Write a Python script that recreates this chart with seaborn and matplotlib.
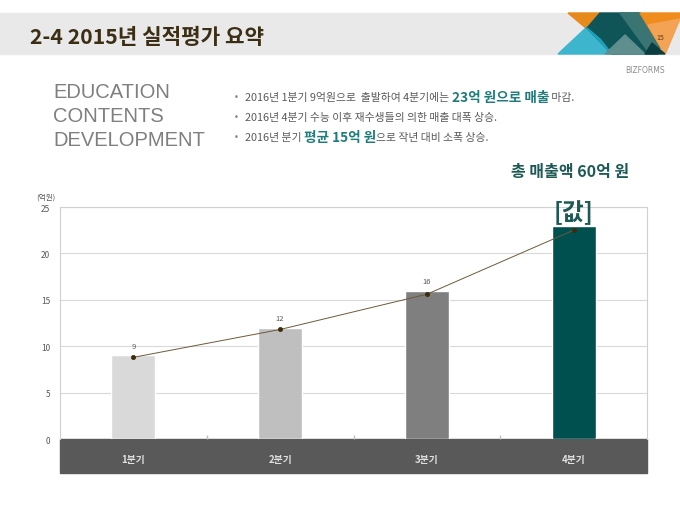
import matplotlib.pyplot as plt
import matplotlib.patches as mpatches
import numpy as np
import pandas as pd
import seaborn as sns

# data
quarters = ['1분기', '2분기', '3분기', '4분기']
sales = [9, 12, 16, 23]            # 억원 (bars)
trend = [8.8, 11.8, 15.6, 22.5]    # line markers
bar_labels = ['9', '12', '16', '[값]']
bar_colors = ['#d9d9d9', '#bfbfbf', '#7f7f7f', '#015050']
y_ticks = [0, 5, 10, 15, 20, 25]

side_words = ['EDUCATION', 'CONTENTS', 'DEVELOPMENT']
# each bullet: list of (text, highlighted?)
bullets = [
    [('2016년 1분기 9억원으로  출발하여 4분기에는 ', False), ('23억 원으로 매출', True), (' 마감.', False)],
    [('2016년 4분기 수능 이후 재수생들의 의한 매출 대폭 상승.', False)],
    [('2016년 분기 ', False), ('평균 15억 원', True), ('으로 작년 대비 소폭 상승.', False)],
]

sns.set_theme(style='white')
plt.rcParams['font.family'] = ['Noto Sans CJK KR', 'DejaVu Sans']

W, H = 680, 510
fig = plt.figure(figsize=(6.8, 5.1), dpi=100)

def fx(px):
    return px / W

def fy(py):
    return 1 - py / H

# header band
fig.patches.append(mpatches.Rectangle((0, fy(55)), 1, 41 / H, transform=fig.transFigure,
                                      color='#e9e9e9', zorder=0))
fig.text(fx(30), fy(37), '2-4 2015년 실적평가 요약', fontsize=15.3, fontweight='bold',
         color='#3b2e14', va='center')

# decorative triangles top right
tris = [
    ([(568, 14), (600, 14), (587, 30)], '#e8891c'),
    ([(558, 55), (587, 28), (618, 55)], '#3db5cc'),
    ([(587, 29), (600, 14), (640, 14), (658, 55), (612, 55)], '#0f5557'),
    ([(612, 55), (587, 29), (600, 40), (612, 55)], '#1aa3bb'),
    ([(620, 14), (640, 14), (662, 48), (650, 55)], '#3a7574'),
    ([(605, 55), (625, 36), (645, 55)], '#5e8f8e'),
    ([(640, 14), (680, 14), (680, 18), (665, 55)], '#ef8c1e'),
    ([(648, 26), (680, 20), (665, 55)], '#f4a354'),
    ([(645, 55), (652, 44), (665, 55)], '#0c3e40'),
]
for pts, col in tris:
    fig.patches.append(mpatches.Polygon([(fx(x), fy(y)) for x, y in pts], closed=True,
                                        transform=fig.transFigure, color=col, zorder=1))
fig.text(fx(660), fy(38), '15', fontsize=5, color='#5a3a10', ha='center', va='center')
fig.text(fx(665), fy(71), 'BIZFORMS', fontsize=5.5, color='#8c8c8c', ha='right', va='center',
         family='DejaVu Sans')

# left side words
for i, w in enumerate(side_words):
    fig.text(fx(53), fy(93 + 24 * i), w, fontsize=14.5, color='#7f7f7f', va='center',
             family='Liberation Sans')

# bullet lines with highlighted parts
fig.canvas.draw()
renderer = fig.canvas.get_renderer()
for i, parts in enumerate(bullets):
    y = fy(98 + 20 * i)
    fig.text(fx(234), y, '•', fontsize=6, color='#7f7f7f', va='center', family='DejaVu Sans')
    x = fx(245)
    for txt, hi in parts:
        if hi:
            t = fig.text(x, y, txt, fontsize=9.8, fontweight='bold', color='#1f7c7a', va='center')
        else:
            t = fig.text(x, y, txt, fontsize=7.8, color='#595959', va='center')
        bb = t.get_window_extent(renderer)
        x += bb.width / W

fig.text(fx(629), fy(172), '총 매출액 60억 원', fontsize=11.5, fontweight='bold',
         color='#1d5a55', ha='right', va='center')

# chart
ax = fig.add_axes([fx(60), fy(440), fx(647) - fx(60), (440 - 208) / H])
df = pd.DataFrame({'quarter': quarters, 'sales': sales, 'trend': trend})
sns.barplot(data=df, x='quarter', y='sales', hue='quarter', palette=bar_colors,
            saturation=1, width=0.3, legend=False, ax=ax, zorder=2)
sns.pointplot(data=df, x='quarter', y='trend', color='#3d2c08', markers='o',
              markersize=3, linewidth=0.7, ax=ax, zorder=3)
for line in ax.lines:
    line.set_color('#6b5a3a')
    line.set_markerfacecolor('#3d2c08')
    line.set_markeredgecolor('#3d2c08')

for i, lab in enumerate(bar_labels):
    if lab.startswith('['):
        ax.annotate(lab, (i, sales[i]), xytext=(0, 1), textcoords='offset points',
                    ha='center', va='bottom', fontsize=17, fontweight='bold', color='#1d5a55')
    else:
        ax.annotate(lab, (i, sales[i]), xytext=(0, 4), textcoords='offset points',
                    ha='center', va='bottom', fontsize=5.5, color='#595959')

ax.set_ylim(0, 25)
ax.set_xlim(-0.5, 3.5)
ax.set_yticks(y_ticks)
ax.yaxis.grid(True, color='#d9d9d9', linewidth=0.8)
ax.set_axisbelow(True)
ax.set_xlabel('')
ax.set_ylabel('')
ax.tick_params(axis='y', labelsize=6, labelcolor='#595959', length=0, pad=7)
ax.tick_params(axis='x', labelsize=7, labelcolor='#e0e0e0', length=0, pad=11)
for lab in ax.get_xticklabels():
    lab.set_fontweight('bold')
ax.set_xticks([0.5, 1.5, 2.5], minor=True)
ax.tick_params(axis='x', which='minor', direction='in', length=3, color='#bfbfbf', bottom=True)
for s in ['left', 'right', 'top']:
    ax.spines[s].set_color('#d0d0d0')
    ax.spines[s].set_linewidth(0.8)
ax.spines['bottom'].set_visible(False)

# dark category band under the plot
ax.add_patch(mpatches.Rectangle((0, -34 / 232), 1, 34 / 232, transform=ax.transAxes,
                                color='#595959', clip_on=False, zorder=0.1))
fig.text(fx(46), fy(198), '(억원)', fontsize=5.5, color='#595959', ha='center', va='center')

fig.savefig('out.png', dpi=100)
